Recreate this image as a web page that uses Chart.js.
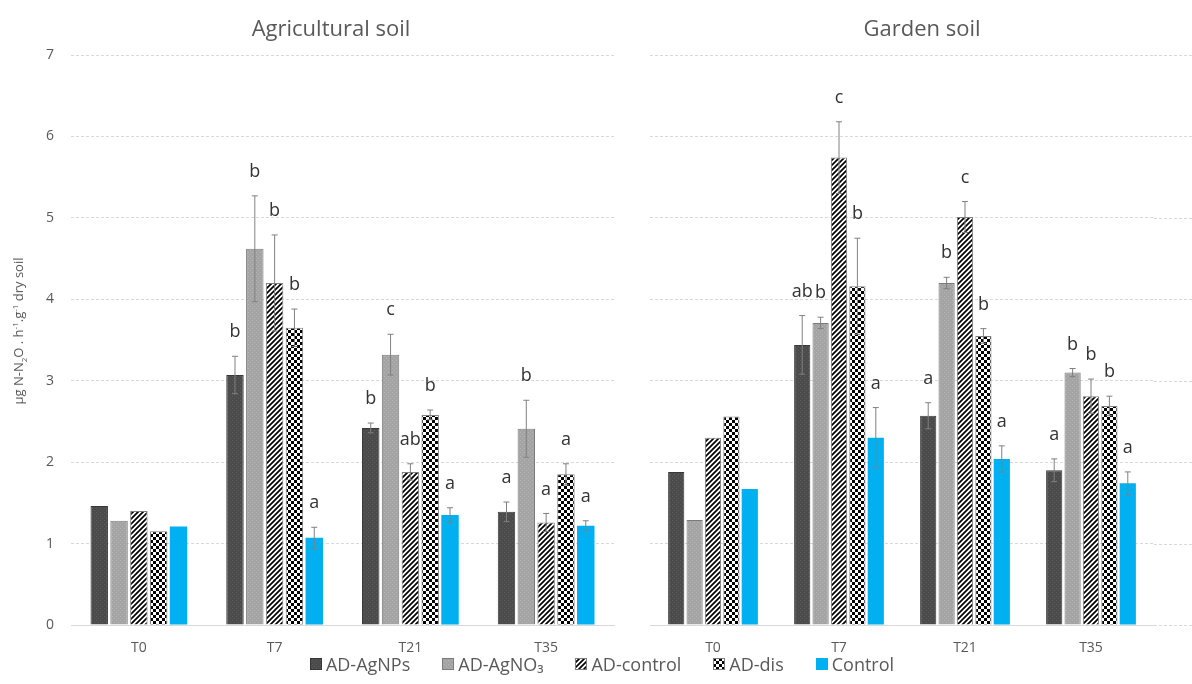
<!DOCTYPE html>
<html>
<head>
<meta charset="utf-8">
<script src="https://cdn.jsdelivr.net/npm/chart.js@4.4.1/dist/chart.umd.min.js"></script>
<style>
  body { margin: 0; width: 1192px; height: 684px; overflow: hidden; background: #fff; position: relative; font-family: "Open Sans", sans-serif; color: #595959; }
  #leftBox { position: absolute; left: 0; top: 0; width: 662px; height: 660px; }
  #rightBox { position: absolute; left: 612px; top: 0; width: 620px; height: 660px; }
  .title { position: absolute; top: 14px; width: 400px; text-align: center; font-size: 22px; line-height: 26px; }
  #yTitle { position: absolute; left: -132px; top: 323px; width: 300px; height: 16px; line-height: 16px; font-size: 13px; text-align: center; transform: rotate(-90deg); white-space: nowrap; }
  #yTitle sub, #yTitle sup { font-size: 8px; line-height: 0; }
  #legend { position: absolute; left: 6px; top: 652px; width: 1192px; display: flex; justify-content: center; align-items: center; font-size: 18px; }
  .item { display: flex; align-items: center; margin: 0 16px; }
  .item canvas { margin-right: 4px; }
</style>
</head>
<body>
<div id="leftBox"><canvas id="agri"></canvas></div>
<div id="rightBox"><canvas id="garden"></canvas></div>
<div class="title" style="left:131px">Agricultural soil</div>
<div class="title" style="left:722px">Garden soil</div>
<div id="yTitle">μg N-N<sub>2</sub>O . h<sup>-1</sup>.g<sup>-1</sup> dry soil</div>
<div id="legend"></div>
<script>
const categories = ['T0', 'T7', 'T21', 'T35'];
const seriesLabels = ['AD-AgNPs', 'AD-AgNO₃', 'AD-control', 'AD-dis', 'Control'];
const yTicks = [0, 1, 2, 3, 4, 5, 6, 7];

// Agricultural soil
const agriAgNPs = [1.46, 3.07, 2.42, 1.39];
const agriAgNO3 = [1.28, 4.62, 3.32, 2.41];
const agriADcontrol = [1.40, 4.20, 1.88, 1.26];
const agriADdis = [1.15, 3.65, 2.58, 1.85];
const agriControl = [1.21, 1.07, 1.35, 1.22];

const agriErrAgNPs = [0, 0.23, 0.06, 0.12];
const agriErrAgNO3 = [0, 0.65, 0.25, 0.35];
const agriErrADcontrol = [0, 0.59, 0.10, 0.11];
const agriErrADdis = [0, 0.23, 0.06, 0.13];
const agriErrControl = [0, 0.13, 0.09, 0.06];

const agriLetAgNPs = ['', 'b', 'b', 'a'];
const agriLetAgNO3 = ['', 'b', 'c', 'b'];
const agriLetADcontrol = ['', 'b', 'ab', 'a'];
const agriLetADdis = ['', 'b', 'b', 'a'];
const agriLetControl = ['', 'a', 'a', 'a'];

// Garden soil
const gardAgNPs = [1.88, 3.44, 2.57, 1.90];
const gardAgNO3 = [1.29, 3.71, 4.20, 3.10];
const gardADcontrol = [2.30, 5.74, 5.01, 2.81];
const gardADdis = [2.56, 4.16, 3.55, 2.69];
const gardControl = [1.67, 2.30, 2.04, 1.74];

const gardErrAgNPs = [0, 0.36, 0.16, 0.14];
const gardErrAgNO3 = [0, 0.07, 0.07, 0.05];
const gardErrADcontrol = [0, 0.44, 0.19, 0.21];
const gardErrADdis = [0, 0.59, 0.09, 0.12];
const gardErrControl = [0, 0.37, 0.16, 0.14];

const gardLetAgNPs = ['', 'ab', 'a', 'a'];
const gardLetAgNO3 = ['', 'b', 'b', 'b'];
const gardLetADcontrol = ['', 'c', 'c', 'b'];
const gardLetADdis = ['', 'b', 'b', 'b'];
const gardLetControl = ['', 'a', 'a', 'a'];

Chart.defaults.font.family = "'Open Sans', sans-serif";
Chart.defaults.color = '#595959';

// fill patterns
function tile(size, draw) {
  const c = document.createElement('canvas');
  c.width = size; c.height = size;
  draw(c.getContext('2d'), size);
  return c;
}
function dotted(base, dot) {
  return tile(4, (g, s) => {
    g.fillStyle = base; g.fillRect(0, 0, s, s);
    g.fillStyle = dot; g.fillRect(0, 0, 1, 1); g.fillRect(2, 2, 1, 1);
  });
}
const stripeTile = tile(5, (g, s) => {
  g.fillStyle = '#fff'; g.fillRect(0, 0, s, s);
  g.strokeStyle = '#000'; g.lineWidth = 1.7;
  g.beginPath();
  g.moveTo(-1, s + 1); g.lineTo(s + 1, -1);
  g.moveTo(-1, 1); g.lineTo(1, -1);
  g.moveTo(s - 1, s + 1); g.lineTo(s + 1, s - 1);
  g.stroke();
});
const checkTile = tile(6, (g, s) => {
  g.fillStyle = '#fff'; g.fillRect(0, 0, s, s);
  g.fillStyle = '#000'; g.fillRect(0, 0, 3, 3); g.fillRect(3, 3, 3, 3);
});
const tiles = [dotted('#4b4b4b', '#5c5c5c'), dotted('#a4a4a4', '#b4b4b4'), stripeTile, checkTile, null];
const borders = ['#383838', '#7a7a7a', '#7f7f7f', '#7f7f7f', '#00b0f0'];

function fills(ctx) {
  return tiles.map(t => t ? ctx.createPattern(t, 'repeat') : '#00b0f0');
}

const errorBars = {
  id: 'errorBars',
  afterDatasetsDraw(chart, args, opts) {
    const ctx = chart.ctx, y = chart.scales.y;
    ctx.save();
    chart.data.datasets.forEach((ds, di) => {
      chart.getDatasetMeta(di).data.forEach((bar, i) => {
        const v = ds.data[i], e = opts.errors[di][i];
        const top = y.getPixelForValue(v + e);
        if (e > 0) {
          const bot = y.getPixelForValue(v - e);
          ctx.strokeStyle = '#808080'; ctx.lineWidth = 1;
          ctx.beginPath();
          ctx.moveTo(bar.x, top); ctx.lineTo(bar.x, bot);
          ctx.moveTo(bar.x - 3, top); ctx.lineTo(bar.x + 3, top);
          ctx.moveTo(bar.x - 3, bot); ctx.lineTo(bar.x + 3, bot);
          ctx.stroke();
        }
        const t = opts.letters[di][i];
        if (t) {
          ctx.fillStyle = '#333';
          ctx.font = "18px 'Open Sans', sans-serif";
          ctx.textAlign = 'center'; ctx.textBaseline = 'middle';
          ctx.fillText(t, bar.x, top - 24);
        }
      });
    });
    ctx.restore();
  }
};

// right panel gridlines run on past the last category
const gridTail = {
  id: 'gridTail',
  beforeDatasetsDraw(chart, args, opts) {
    if (!opts.on) return;
    const ctx = chart.ctx, y = chart.scales.y, a = chart.chartArea;
    ctx.save();
    ctx.strokeStyle = '#d9d9d9'; ctx.lineWidth = 1;
    ctx.setLineDash([3, 2]);
    y.ticks.forEach(t => {
      const py = Math.round(y.getPixelForValue(t.value)) + 0.5;
      ctx.beginPath(); ctx.moveTo(a.right, py); ctx.lineTo(chart.width, py); ctx.stroke();
    });
    ctx.restore();
  }
};

function makeChart(id, values, errors, letters, isLeft) {
  const canvas = document.getElementById(id);
  const ctx = canvas.getContext('2d');
  const f = fills(ctx);
  return new Chart(canvas, {
    type: 'bar',
    data: {
      labels: categories,
      datasets: values.map((d, i) => ({
        label: seriesLabels[i],
        data: d,
        backgroundColor: f[i],
        borderColor: borders[i],
        borderWidth: i === 4 ? 0 : 1,
        categoryPercentage: 0.73,
        barPercentage: 0.88
      }))
    },
    options: {
      responsive: true,
      maintainAspectRatio: false,
      animation: false,
      layout: { padding: { left: 0, right: isLeft ? 48 : 78, top: 55, bottom: 0 } },
      plugins: {
        legend: { display: false },
        tooltip: { enabled: false },
        errorBars: { errors: errors, letters: letters },
        gridTail: { on: !isLeft }
      },
      scales: {
        x: {
          grid: { display: false },
          border: { display: true, color: '#d9d9d9' },
          ticks: { font: { size: 14 }, color: '#595959', padding: 7 },
          afterFit(s) { s.height = 35; }
        },
        y: {
          min: 0, max: 7,
          afterBuildTicks(s) { s.ticks = yTicks.map(v => ({ value: v })); },
          grid: { color: '#d9d9d9', drawTicks: false },
          border: { display: false, dash: [3, 2] },
          ticks: { display: isLeft, font: { size: 14 }, color: '#595959', padding: 17 },
          afterFit(s) { s.width = isLeft ? 71 : 38; }
        }
      }
    },
    plugins: [errorBars, gridTail]
  });
}

makeChart('agri',
  [agriAgNPs, agriAgNO3, agriADcontrol, agriADdis, agriControl],
  [agriErrAgNPs, agriErrAgNO3, agriErrADcontrol, agriErrADdis, agriErrControl],
  [agriLetAgNPs, agriLetAgNO3, agriLetADcontrol, agriLetADdis, agriLetControl], true);

makeChart('garden',
  [gardAgNPs, gardAgNO3, gardADcontrol, gardADdis, gardControl],
  [gardErrAgNPs, gardErrAgNO3, gardErrADcontrol, gardErrADdis, gardErrControl],
  [gardLetAgNPs, gardLetAgNO3, gardLetADcontrol, gardLetADdis, gardLetControl], false);

// legend
const legend = document.getElementById('legend');
seriesLabels.forEach((name, i) => {
  const item = document.createElement('div');
  item.className = 'item';
  const sw = document.createElement('canvas');
  sw.width = 12; sw.height = 12;
  const g = sw.getContext('2d');
  g.fillStyle = tiles[i] ? g.createPattern(tiles[i], 'repeat') : '#00b0f0';
  g.fillRect(0, 0, 12, 12);
  if (i < 4) { g.strokeStyle = borders[i]; g.lineWidth = 1; g.strokeRect(0.5, 0.5, 11, 11); }
  const txt = document.createElement('span');
  txt.textContent = name;
  item.appendChild(sw); item.appendChild(txt);
  legend.appendChild(item);
});
</script>
</body>
</html>
